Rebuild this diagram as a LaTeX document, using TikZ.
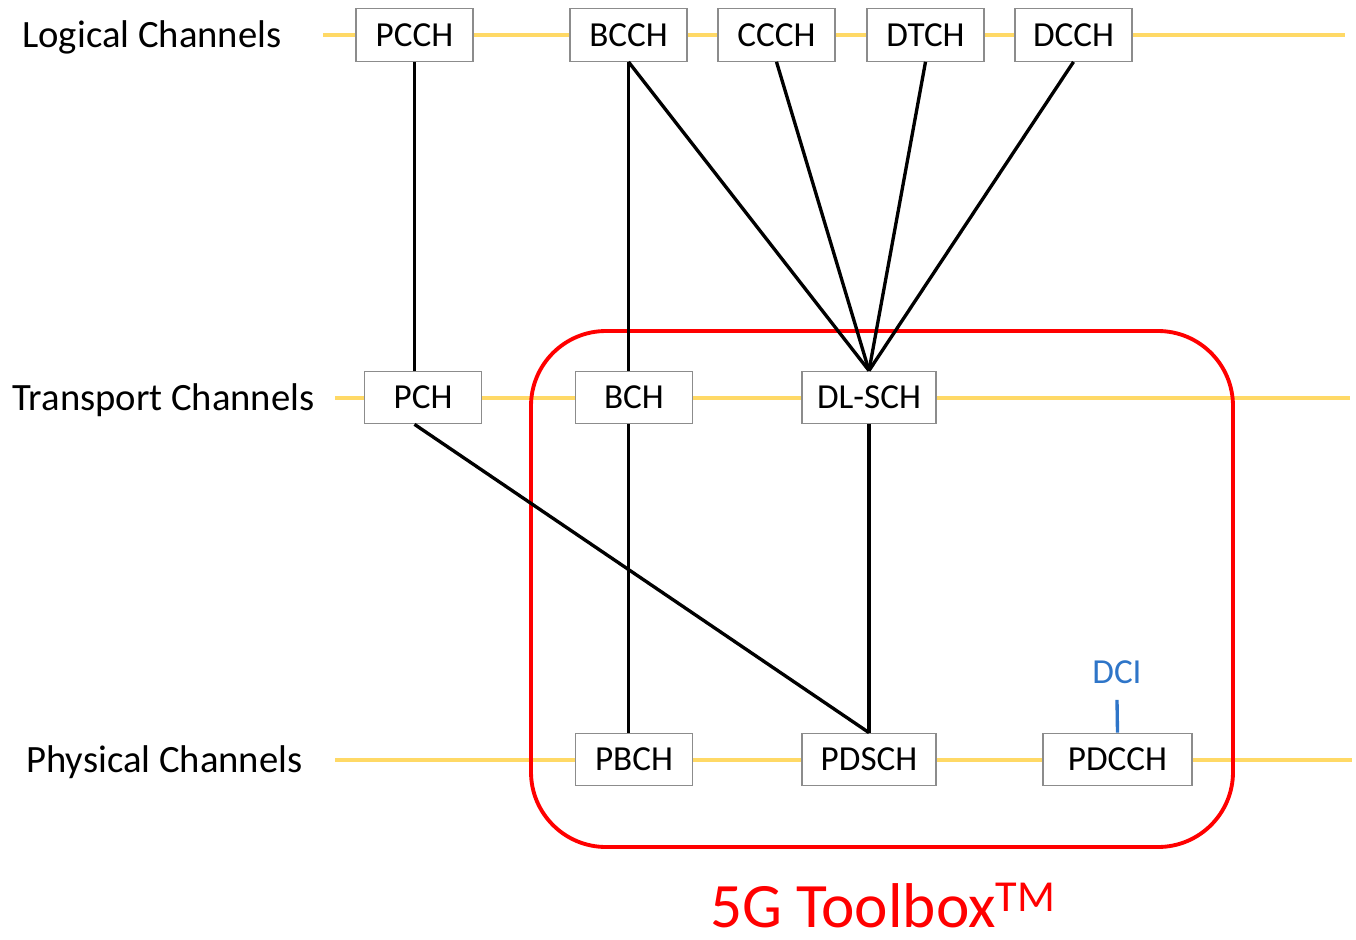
\documentclass[tikz,border=0pt]{standalone}
\usepackage{fontspec}
\setmainfont{Carlito}
\definecolor{railyellow}{HTML}{FFD966}
\definecolor{boxgray}{HTML}{8C8C8C}
\definecolor{dciblue}{HTML}{2E75C8}
\definecolor{tbred}{HTML}{FF0000}

\begin{document}
\begin{tikzpicture}[x=0.02cm,y=-0.02cm,
        rail/.style={draw=railyellow,line width=2.2pt},
        chbox/.style={draw=boxgray,line width=0.7pt,fill=white,inner sep=0pt,
            minimum width=2.34cm,minimum height=1.05cm,font=\fontsize{20}{24}\selectfont},
        layer/.style={anchor=base west,inner sep=0pt,font=\fontsize{22}{26}\selectfont},
        link/.style={draw=black,line width=1.9pt}]
            \useasboundingbox (0,0) rectangle (1356,940);

            % layer labels
            \node[layer] (loglbl) at (22,47) {Logical Channels};
            \node[layer] (trlbl) at (12,410) {Transport Channels};
            \node[layer] (phylbl) at (26,772) {Physical Channels};

            % rails
            \coordinate (logend) at (1345,35);
            \coordinate (trend) at (1350,398);
            \coordinate (phyend) at (1352,760);
            \draw[rail] (323,35) -- (logend);
            \draw[rail] (335,398) -- (trend);
            \draw[rail] (335,760) -- (phyend);

            % 5G toolbox frame
            \draw[tbred,line width=2.2pt,rounded corners=1.5cm] (531,331) rectangle (1233,847);
            \node[text=tbred,anchor=base,inner sep=0pt,font=\fontsize{36}{40}\selectfont]
                (toolbox) at (883,927) {5G Toolbox\textsuperscript{TM}};

            % logical channels
            \node[chbox] (pcch) at (414.5,35) {PCCH};
            \node[chbox] (bcch) at (628.5,35) {BCCH};
            \node[chbox] (ccch) at (776.5,35) {CCCH};
            \node[chbox] (dtch) at (925.5,35) {DTCH};
            \node[chbox] (dcch) at (1073.5,35) {DCCH};

            % transport channels
            \node[chbox] (pch) at (423,397.5) {PCH};
            \node[chbox] (bch) at (634,397.5) {BCH};
            \node[chbox,minimum width=2.68cm] (dlsch) at (869,397.5) {DL-SCH};

            % physical channels
            \node[chbox] (pbch) at (634,759.5) {PBCH};
            \node[chbox,minimum width=2.68cm] (pdsch) at (869,759.5) {PDSCH};
            \node[chbox,minimum width=2.98cm] (pdcch) at (1117.5,759.5) {PDCCH};
            \node[text=dciblue,inner xsep=2pt,inner ysep=0.32cm,font=\fontsize{20}{24}\selectfont]
                (dci) at (1117,672) {DCI};

            % mappings
            \draw[link] (pcch.south) -- (pcch.south |- pch.north);
            \draw[link] (pcch.south |- pch.south) -- (pdsch.north);
            \draw[link] (bcch.south) -- (bcch.south |- bch.north);
            \draw[link] (bcch.south |- bch.south) -- (bcch.south |- pbch.north);
            \draw[link] (bcch.south) -- (dlsch.north);
            \draw[link] (ccch.south) -- (dlsch.north);
            \draw[link] (dtch.south) -- (dlsch.north);
            \draw[link] (dcch.south) -- (dlsch.north);
            \draw[link] (dlsch.south) -- (pdsch.north);
            \draw[draw=dciblue,line width=1.9pt] (dci.south) -- (pdcch.north);
        \end{tikzpicture}
\end{document}
